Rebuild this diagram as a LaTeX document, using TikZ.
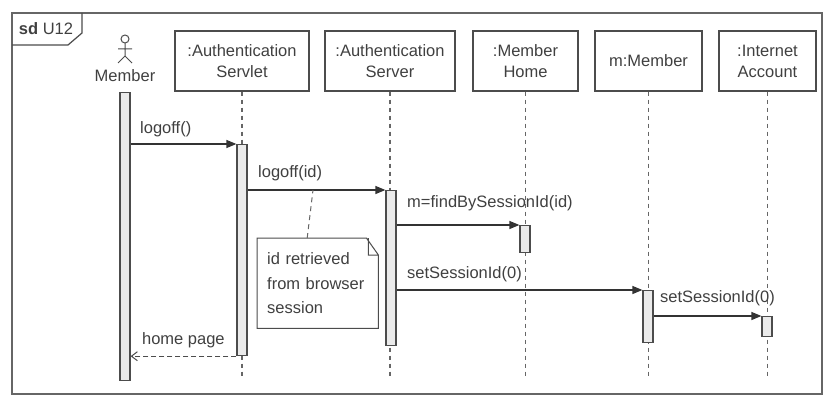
\documentclass[tikz,border=0pt]{standalone}
\usepackage{fontspec}
\setmainfont{Liberation Sans}
\usetikzlibrary{arrows.meta}
\begin{document}
\begin{tikzpicture}[>={Triangle[length=10pt,width=8pt]},x=1pt,y=-1pt,
	every node/.style={font=\fontsize{16.5}{21}\selectfont,text=black!75},
	obj/.style={draw=black!70,line width=1.2pt,minimum height=60pt,align=center,inner sep=0pt},
	act/.style={draw=black!70,fill=black!8,line width=1.2pt,minimum width=10pt,anchor=north,inner sep=0pt},
	life/.style={black!60,line width=1.2pt,dash pattern=on 4pt off 4pt},
	msg/.style={->,black!80,line width=1.2pt},
	ret/.style={-{Straight Barb[length=6pt,width=9pt]},black!70,line width=1pt,dash pattern=on 5pt off 3pt},
	lbl/.style={anchor=south west,inner sep=0pt}]
		\useasboundingbox (0,0) rectangle (824,396);
		% frame
		\draw[black!60,line width=2pt] (12,13) rectangle (822,394);
		\draw[black!70,line width=1.2pt] (12,45) -- (68,45) -- (82,33) -- (82,13);
		\node (sd) at (46,29) {\textbf{sd} U12};
		% actor
		\draw[black!70,line width=1pt] (125,39) circle (4pt) (125,43) -- (125,56) (118,49) -- (132,49) (118,63) -- (125,56) -- (132,63);
		\node (actor) at (125,76) {Member};
		% objects
		\node[obj,minimum width=134pt] (servlet) at (242,61) {:Authentication\\Servlet};
		\node[obj,minimum width=130pt] (server) at (390,61) {:Authentication\\Server};
		\node[obj,minimum width=105pt] (home) at (525.5,61) {:Member\\Home};
		\node[obj,minimum width=107pt] (member) at (648.5,61) {m:Member};
		\node[obj,minimum width=97pt] (account) at (767.5,61) {:Internet\\Account};
		\foreach \o in {servlet,server,home,member,account}
			\draw[life] (\o.south) -- ++(0,287);
		% activations
		\node[act,minimum height=288pt] (barA) at (125,92) {};
		\node[act,minimum height=211pt] (barS) at (242,144) {};
		\node[act,minimum height=155pt] (barV) at (391,190) {};
		\node[act,minimum height=27pt] (barH) at (525,225) {};
		\node[act,minimum height=52pt] (barM) at (648,290) {};
		\node[act,minimum height=20pt] (barI) at (767,316) {};
		% messages
		\draw[msg] (barA.east |- barS.north) node[lbl,xshift=9pt,yshift=6pt] {logoff()} -- (barS.north west);
		\draw[msg] (barS.east |- barV.north) node[lbl,xshift=10pt,yshift=8pt] {logoff(id)} -- (barV.north west);
		\draw[msg] (barV.east |- barH.north) node[lbl,xshift=10pt,yshift=13pt] {m=findBySessionId(id)} -- (barH.north west);
		\draw[msg] (barV.east |- barM.north) node[lbl,xshift=10pt,yshift=7pt] {setSessionId(0)} -- (barM.north west);
		\draw[msg] (barM.east |- barI.north) node[lbl,xshift=6pt,yshift=9pt] {setSessionId(0)} -- (barI.north west);
		\draw[ret] (barS.south west) -- (barA.east |- barS.south) node[lbl,xshift=11pt,yshift=8pt] {home page};
		% note
		\node[anchor=north west,minimum width=121pt,minimum height=90pt,text width=101pt,inner xsep=10pt,align=left,
			font=\fontsize{16.5}{24.5}\selectfont] (memo) at (257,238) {id retrieved\\from browser\\session};
		\draw[black!70,line width=1pt] (memo.south west) -- (memo.north west) -- ([xshift=-12pt]memo.north east)
			-- ([yshift=-17pt]memo.north east) -- (memo.south east) -- cycle
			([xshift=-10pt]memo.north east) -- ([xshift=-10pt,yshift=-17pt]memo.north east) -- ([yshift=-17pt]memo.north east);
		\coordinate (tack) at (313,190);
		\draw[black!60,line width=1pt,dash pattern=on 5pt off 4pt] ([xshift=-10.5pt]memo.north) -- (tack);
\end{tikzpicture}
\end{document}
